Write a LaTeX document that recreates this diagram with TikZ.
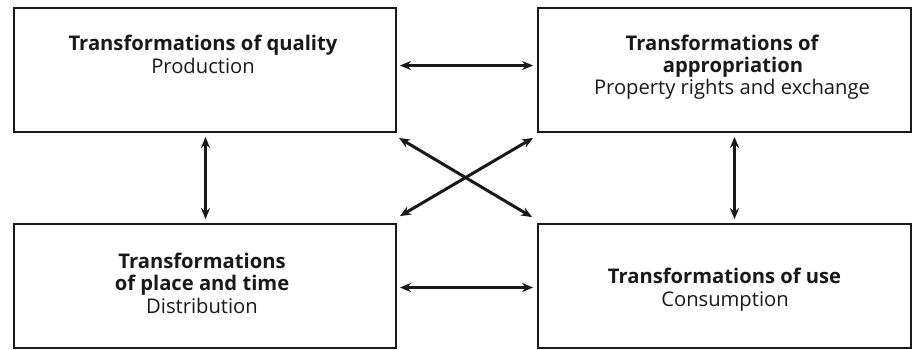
\documentclass[tikz,border=0pt]{standalone}
\usepackage{fontspec}
\setmainfont{Open Sans}
\usetikzlibrary{arrows.meta}
\begin{document}
\begin{tikzpicture}[x=1pt,y=-1pt,
  box/.style={draw=black!90,line width=1.8pt,minimum width=#1,minimum height=124pt,inner sep=0pt},
  head/.style={anchor=base,inner sep=0pt,font=\fontsize{20.2}{24}\selectfont\bfseries,text=black!90},
  sub/.style={anchor=base,inner sep=0pt,font=\fontsize{20.2}{24}\selectfont,text=black!90},
  arr/.style={line width=3pt,draw=black!90,{Stealth[length=11pt,width=9pt]}-{Stealth[length=11pt,width=9pt]}}]
\useasboundingbox (0,0) rectangle (912,349);
\node[box=382pt] (tl) at (205,70) {};
\node[box=373pt] (tr) at (724.5,70) {};
\node[box=382pt] (bl) at (205,286) {};
\node[box=373pt] (br) at (724.5,286) {};
% texts
\node[head] (tl1) at (203,50) {Transformations of quality};
\node[sub]  (tl2) at (203,73) {Production};
\node[head] (tr1) at (722,50) {Transformations of};
\node[head] (tr2) at (733,72) {appropriation};
\node[sub]  (tr3) at (732,94) {Property rights and exchange};
\node[head] (bl1) at (202,268) {Transformations};
\node[head] (bl2) at (202,290) {of place and time};
\node[sub]  (bl3) at (202,313) {Distribution};
\node[head] (br1) at (724.5,283) {Transformations of use};
\node[sub]  (br2) at (725,306) {Consumption};
% connectors
\draw[arr] ([shift={(3pt,4.5pt)}]tl.east) -- ([shift={(-4pt,4.5pt)}]tr.west);
\draw[arr] ([shift={(3pt,-1.5pt)}]bl.east) -- ([shift={(-4pt,-1.5pt)}]br.west);
\draw[arr] ([shift={(0.5pt,-4pt)}]tl.south) -- ([shift={(0.5pt,4pt)}]bl.north);
\draw[arr] ([shift={(10pt,-4pt)}]tr.south) -- ([shift={(10pt,4pt)}]br.north);
\draw[arr] ([shift={(2pt,-5pt)}]tl.south east) -- ([shift={(-5pt,6pt)}]br.north west);
\draw[arr] ([shift={(-4pt,-5pt)}]tr.south west) -- ([shift={(3pt,7pt)}]bl.north east);
\end{tikzpicture}
\end{document}
